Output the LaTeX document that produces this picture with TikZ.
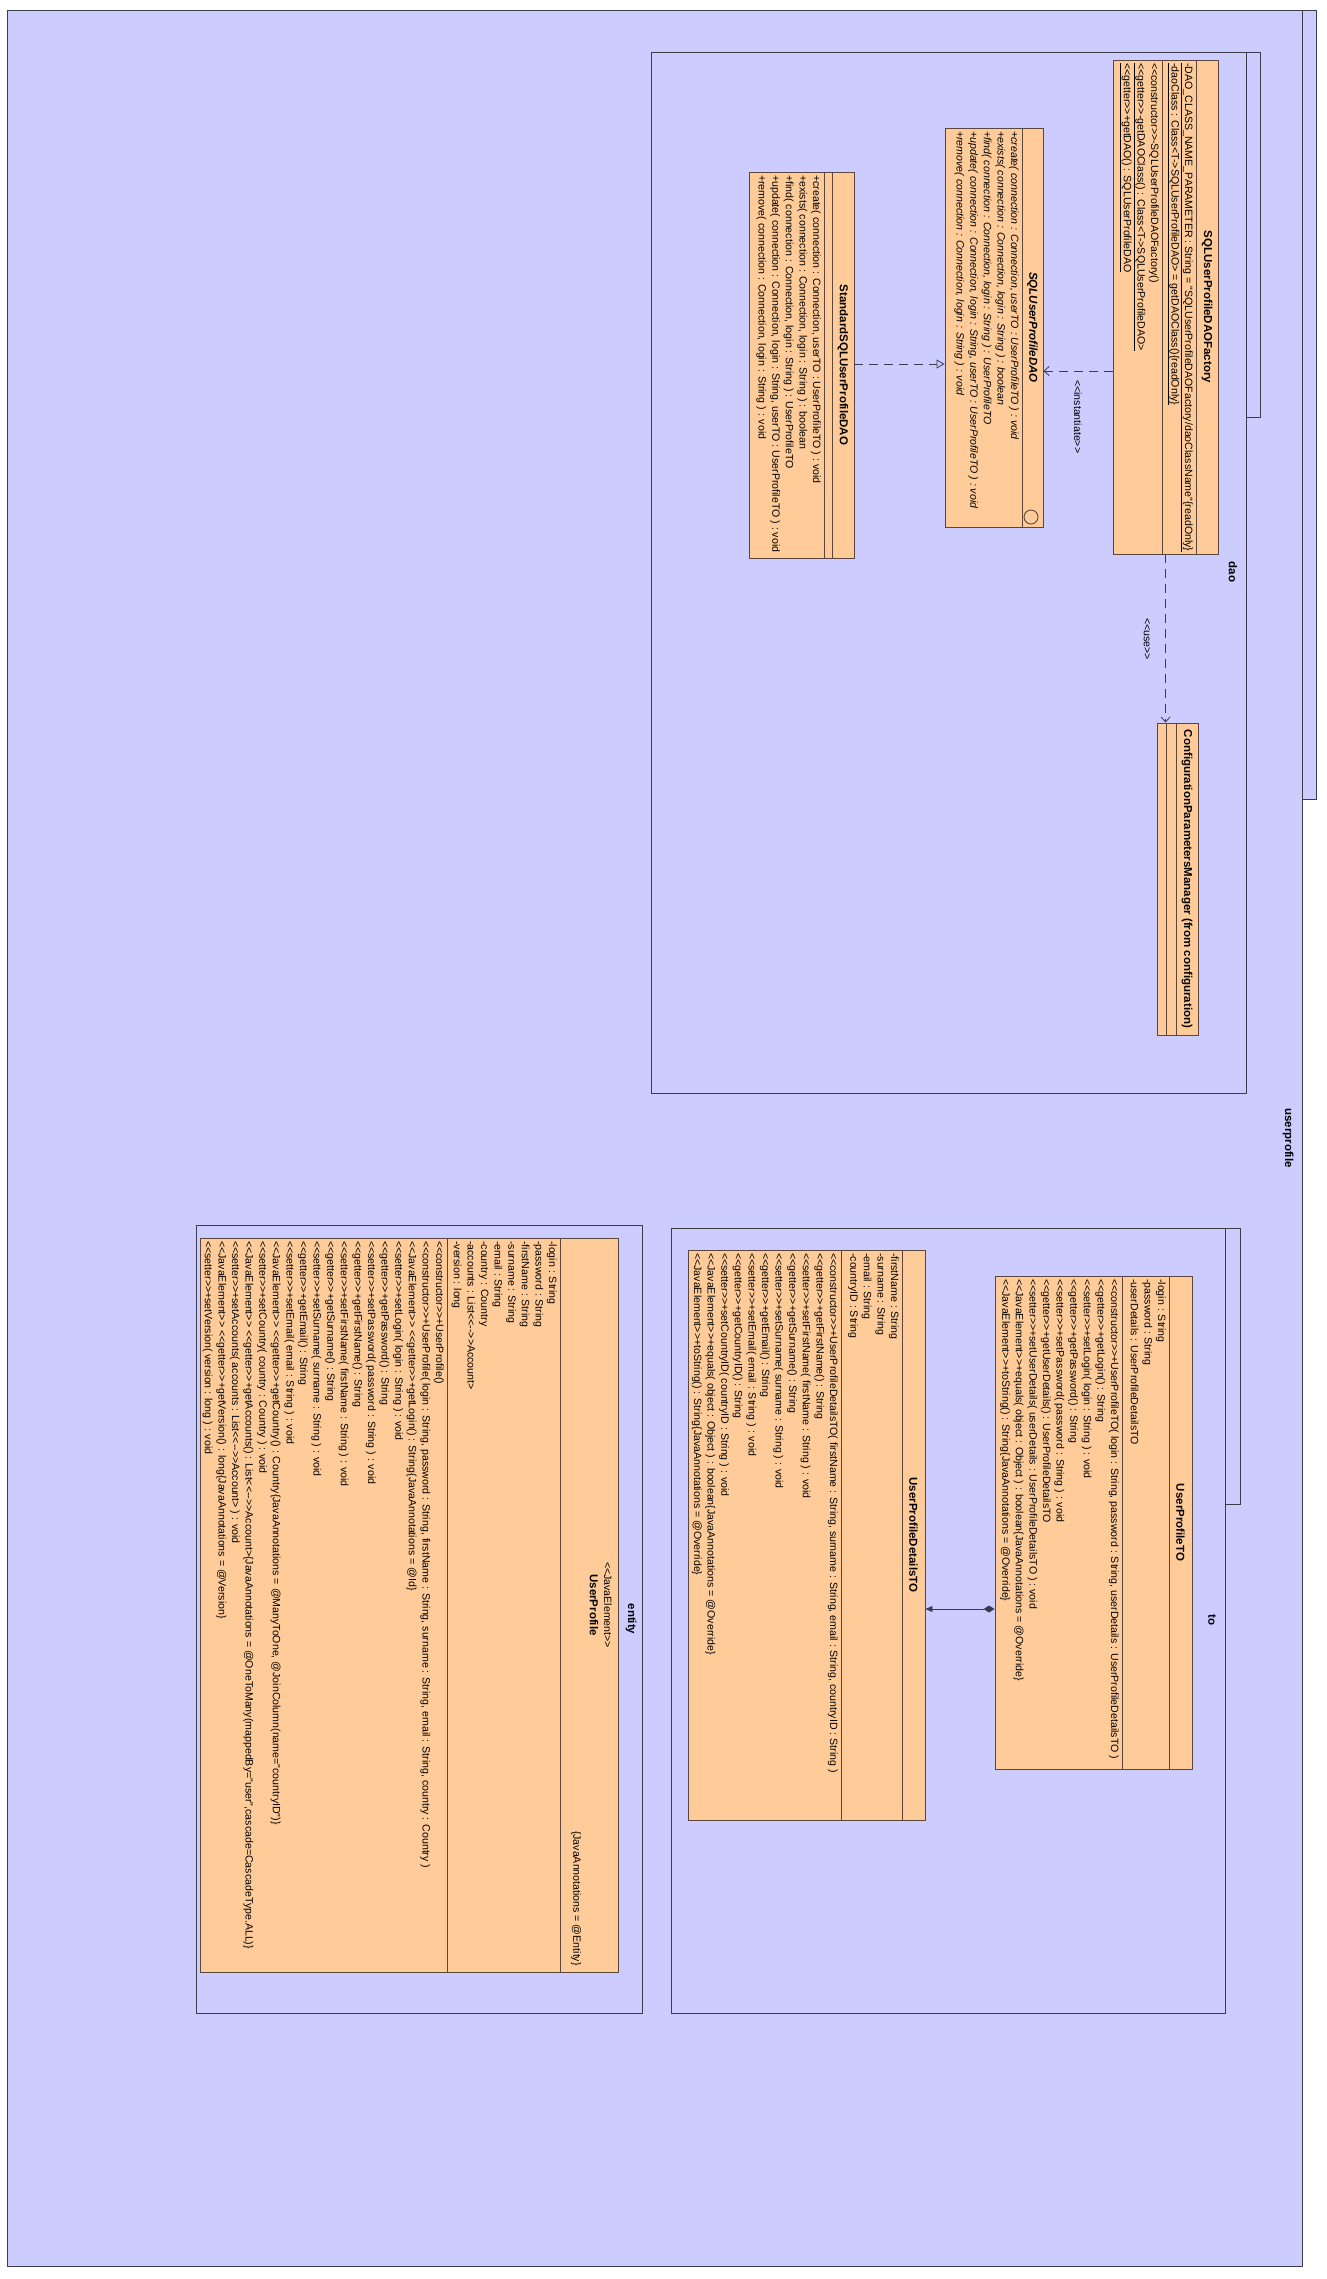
\documentclass[tikz,border=0pt]{standalone}
\usepackage{fontspec}
\newfontfamily\umlfont{Liberation Sans}
\usetikzlibrary{arrows.meta}
\definecolor{pkgfill}{RGB}{204,204,255}
\definecolor{clsfill}{RGB}{255,204,153}
\definecolor{pkgline}{RGB}{60,60,75}
\definecolor{clsline}{RGB}{90,70,60}
\tikzset{
  pkg/.style={draw=pkgline, fill=pkgfill, line width=0.9pt},
  cls/.style={draw=clsline, fill=clsfill, line width=0.9pt, inner sep=0pt},
  sep/.style={draw=clsline, line width=0.9pt},
  txt/.style={rotate=-90, anchor=north west, inner sep=0pt, align=left,
    font=\umlfont\fontsize{10.6}{13.6}\selectfont},
  ttl/.style={rotate=-90, inner sep=0pt, font=\umlfont\bfseries\fontsize{11.5}{13}\selectfont},
  lbl/.style={rotate=-90, inner sep=0pt, font=\umlfont\fontsize{10.6}{13}\selectfont},
  dep/.style={draw=pkgline, line width=0.8pt, dash pattern=on 9pt off 6pt,
    -{Straight Barb[length=5pt,width=9pt]}},
  real/.style={draw=pkgline, line width=0.8pt, dash pattern=on 9pt off 6pt,
    -{Triangle[open,length=8pt,width=9pt]}},
  comp/.style={draw=pkgline, line width=0.8pt,
    {Diamond[length=11pt,width=7pt]}-{Triangle[length=7pt,width=6pt]}}
}
\begin{document}
\begin{tikzpicture}[x=1pt,y=-1pt]
        \useasboundingbox (0,0) rectangle (1327,2279);
        % packages
        \draw[pkg] (7,10) rectangle (1302,2266);
        \draw[pkg] (1302,10) rectangle (1316,799);
        \node[ttl] (userprofile) at (1288,1138) {userprofile};
        \draw[pkg] (651,52) rectangle (1246,1093);
        \draw[pkg] (1246,52) rectangle (1260,417);
        \node[ttl] (dao) at (1233,572) {dao};
        \draw[pkg] (671,1228) rectangle (1225,2013);
        \draw[pkg] (1225,1228) rectangle (1240,1504);
        \node[ttl] (to) at (1212,1620) {to};
        \draw[pkg] (196,1225) rectangle (642,2013);
        \node[ttl] (entity) at (631,1619) {entity};
        % dao classes
        \node[cls, minimum width=105, minimum height=494] (factory) at (1165.5,307) {};
        \draw[sep] (1196,60) -- (1196,554);
        \draw[sep] (1162,60) -- (1162,554);
        \node[ttl] (factoryname) at (1207,307) {SQLUserProfileDAOFactory};
        \node[txt] (factoryattr) at (1193,63) {\underline{-DAO\_CLASS\_NAME\_PARAMETER : String = "SQLUserProfileDAOFactory/daoClassName"\{readOnly\}}\\
          \underline{-daoClass : Class<T->SQLUserProfileDAO> = getDAOClass()\{readOnly\}}};
        \node[txt] (factoryops) at (1159,63) {<<constructor>>-SQLUserProfileDAOFactory()\\
          \underline{<<getter>>-getDAOClass() : Class<T->SQLUserProfileDAO>}\\
          \underline{<<getter>>+getDAO() : SQLUserProfileDAO}};
        \node[cls, minimum width=98, minimum height=399] (sqldao) at (994,327.5) {};
        \draw[sep] (1022,128) -- (1022,527);
        \draw[sep] (1031,517) circle (7pt);
        \node[ttl, font=\umlfont\bfseries\itshape\fontsize{11.5}{13}\selectfont] (sqldaoname) at (1032.5,327.5) {SQLUserProfileDAO};
        \node[txt, font=\umlfont\itshape\fontsize{10.6}{13.6}\selectfont] (sqldaoops) at (1019,131) {+create( connection : Connection, userTO : UserProfileTO ) : void\\
          +exists( connection : Connection, login : String ) : boolean\\
          +find( connection : Connection, login : String ) : UserProfileTO\\
          +update( connection : Connection, login : String, userTO : UserProfileTO ) : void\\
          +remove( connection : Connection, login : String ) : void};
        \node[cls, minimum width=105, minimum height=386] (std) at (801.5,365) {};
        \draw[sep] (832,172) -- (832,558);
        \draw[sep] (824,172) -- (824,558);
        \node[ttl] (stdname) at (843,365) {StandardSQLUserProfileDAO};
        \node[txt] (stdops) at (821,175) {+create( connection : Connection, userTO : UserProfileTO ) : void\\
          +exists( connection : Connection, login : String ) : boolean\\
          +find( connection : Connection, login : String ) : UserProfileTO\\
          +update( connection : Connection, login : String, userTO : UserProfileTO ) : void\\
          +remove( connection : Connection, login : String ) : void};
        \node[cls, minimum width=41, minimum height=312] (config) at (1177.5,879) {};
        \draw[sep] (1176,723) -- (1176,1035);
        \draw[sep] (1166,723) -- (1166,1035);
        \node[ttl] (configname) at (1187,879) {ConfigurationParametersManager (from configuration)};
        % dao connectors
        \coordinate (instY) at (0,371);
        \draw[dep] (instY -| factory.west) -- (instY -| sqldao.east);
        \node[lbl, anchor=west] (instlbl) at (1078,380) {<<instantiate>>};
        \draw[dep] ([xshift=53pt]factory.south west) -- ([xshift=9pt]config.north west);
        \node[lbl] (uselbl) at (1147,639) {<<use>>};
        \coordinate (realY) at (0,364);
        \draw[real] (realY -| std.east) -- (realY -| sqldao.west);
        % to classes
        \node[cls, minimum width=197, minimum height=493] (upto) at (1093.5,1522.5) {};
        \draw[sep] (1169,1276) -- (1169,1769);
        \draw[sep] (1122,1276) -- (1122,1769);
        \node[ttl] (uptoname) at (1180.5,1522.5) {UserProfileTO};
        \node[txt] (uptoattr) at (1166,1279) {-login : String\\
          -password : String\\
          -userDetails : UserProfileDetailsTO};
        \node[txt] (uptoops) at (1119,1279) {<<constructor>>+UserProfileTO( login : String, password : String, userDetails : UserProfileDetailsTO )\\
          <<getter>>+getLogin() : String\\
          <<setter>>+setLogin( login : String ) : void\\
          <<getter>>+getPassword() : String\\
          <<setter>>+setPassword( password : String ) : void\\
          <<getter>>+getUserDetails() : UserProfileDetailsTO\\
          <<setter>>+setUserDetails( userDetails : UserProfileDetailsTO ) : void\\
          <<JavaElement>>+equals( object : Object ) : boolean\{JavaAnnotations = @Override\}\\
          <<JavaElement>>+toString() : String\{JavaAnnotations = @Override\}};
        \node[cls, minimum width=237, minimum height=570] (updet) at (806.5,1535) {};
        \draw[sep] (902,1250) -- (902,1820);
        \draw[sep] (841,1250) -- (841,1820);
        \node[ttl] (updetname) at (913.5,1535) {UserProfileDetailsTO};
        \node[txt] (updetattr) at (899,1253) {-firstName : String\\
          -surname : String\\
          -email : String\\
          -countryID : String};
        \node[txt] (updetops) at (838,1253) {<<constructor>>+UserProfileDetailsTO( firstName : String, surname : String, email : String, countryID : String )\\
          <<getter>>+getFirstName() : String\\
          <<setter>>+setFirstName( firstName : String ) : void\\
          <<getter>>+getSurname() : String\\
          <<setter>>+setSurname( surname : String ) : void\\
          <<getter>>+getEmail() : String\\
          <<setter>>+setEmail( email : String ) : void\\
          <<getter>>+getCountryID() : String\\
          <<setter>>+setCountryID( countryID : String ) : void\\
          <<JavaElement>>+equals( object : Object ) : boolean\{JavaAnnotations = @Override\}\\
          <<JavaElement>>+toString() : String\{JavaAnnotations = @Override\}};
        \coordinate (compY) at (0,1609);
        \draw[comp] (compY -| upto.west) -- (compY -| updet.east);
        % entity class
        \node[cls, minimum width=418, minimum height=734] (profile) at (409,1605) {};
        \draw[sep] (560,1238) -- (560,1972);
        \draw[sep] (447,1238) -- (447,1972);
        \node[lbl] (profilestereo) at (608,1605) {<<JavaElement>>};
        \node[ttl] (profilename) at (594,1605) {UserProfile};
        \node[lbl, anchor=east] (profileann) at (576,1966) {\{JavaAnnotations = @Entity\}};
        \node[txt] (profileattr) at (557,1241) {-login : String\\
          -password : String\\
          -firstName : String\\
          -surname : String\\
          -email : String\\
          -country : Country\\
          -accounts : List<<-->>Account>\\
          -version : long};
        \node[txt] (profileops) at (444,1241) {<<constructor>>+UserProfile()\\
          <<constructor>>+UserProfile( login : String, password : String, firstName : String, surname : String, email : String, country : Country )\\
          <<JavaElement>> <<getter>>+getLogin() : String\{JavaAnnotations = @Id\}\\
          <<setter>>+setLogin( login : String ) : void\\
          <<getter>>+getPassword() : String\\
          <<setter>>+setPassword( password : String ) : void\\
          <<getter>>+getFirstName() : String\\
          <<setter>>+setFirstName( firstName : String ) : void\\
          <<getter>>+getSurname() : String\\
          <<setter>>+setSurname( surname : String ) : void\\
          <<getter>>+getEmail() : String\\
          <<setter>>+setEmail( email : String ) : void\\
          <<JavaElement>> <<getter>>+getCountry() : Country\{JavaAnnotations = @ManyToOne, @JoinColumn(name="countryID")\}\\
          <<setter>>+setCountry( country : Country ) : void\\
          <<JavaElement>> <<getter>>+getAccounts() : List<<-->>Account>\{JavaAnnotations = @OneToMany(mappedBy="user",cascade=CascadeType.ALL)\}\\
          <<setter>>+setAccounts( accounts : List<<-->>Account> ) : void\\
          <<JavaElement>> <<getter>>+getVersion() : long\{JavaAnnotations = @Version\}\\
          <<setter>>+setVersion( version : long ) : void};
\end{tikzpicture}
\end{document}
